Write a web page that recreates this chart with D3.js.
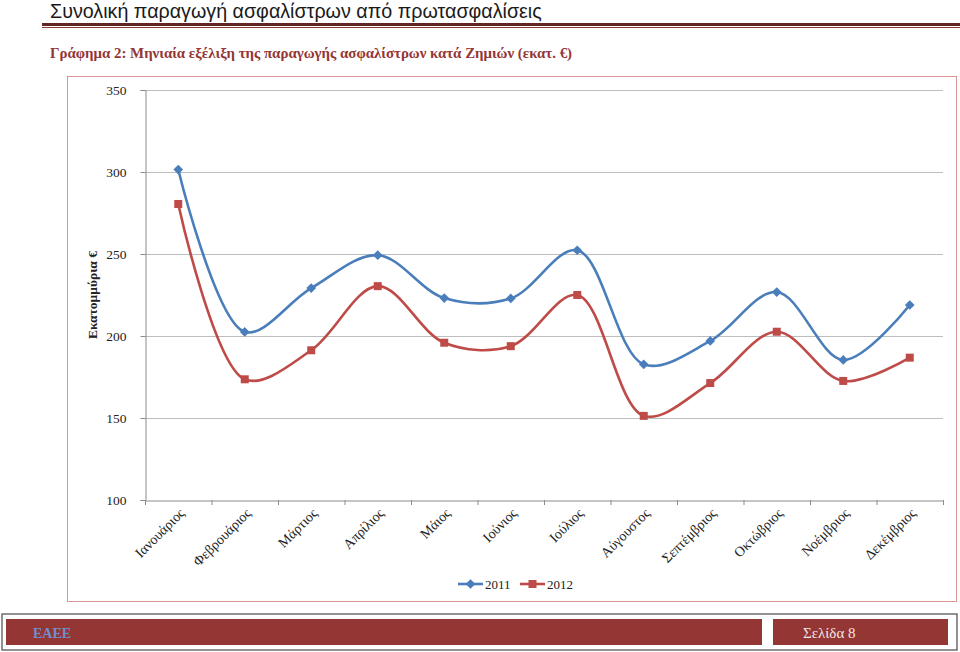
<!DOCTYPE html>
<html><head><meta charset="utf-8">
<script src="https://cdn.jsdelivr.net/npm/d3@7"></script>
<style>body{margin:0;background:#fff}svg{display:block}</style>
</head><body>
<svg id="c" width="960" height="652"></svg>
<script>
const months = ["Ιανουάριος","Φεβρουάριος","Μάρτιος","Απρίλιος","Μάιος","Ιούνιος","Ιούλιος","Αύγουστος","Σεπτέμβριος","Οκτώβριος","Νοέμβριος","Δεκέμβριος"];
const values2011 = [301.5, 202.5, 229.2, 249.3, 223.1, 222.9, 252.3, 182.7, 197.0, 226.8, 185.4, 218.9];
const values2012 = [280.5, 173.6, 191.3, 230.4, 195.9, 193.8, 225.0, 151.3, 171.3, 202.6, 172.6, 186.8];
const yTicks = [100, 150, 200, 250, 300, 350];
const seriesNames = ["2011", "2012"];

const svg = d3.select("#c");
const blue = "#4A7EBB", red = "#BE4B48";

// Header title
svg.append("text").attr("x", 50).attr("y", 18).attr("font-family", "Liberation Sans, Arial, sans-serif")
  .attr("font-size", 19.7).attr("fill", "#1a1a1a").text("Συνολική παραγωγή ασφαλίστρων από πρωτασφαλίσεις");
svg.append("rect").attr("x", 42).attr("y", 23).attr("width", 918).attr("height", 3).attr("fill", "#632523");
svg.append("rect").attr("x", 42).attr("y", 27).attr("width", 918).attr("height", 1).attr("fill", "#8a3a38");

// Subtitle
svg.append("text").attr("x", 50).attr("y", 58).attr("font-family", "Liberation Serif, Times New Roman, serif")
  .attr("font-size", 14.9).attr("font-weight", "bold").attr("fill", "#943634")
  .text("Γράφημα 2: Μηνιαία εξέλιξη της παραγωγής ασφαλίστρων κατά Ζημιών (εκατ. €)");

// Chart frame
svg.append("rect").attr("x", 67.5).attr("y", 76.5).attr("width", 889).attr("height", 525)
  .attr("fill", "#fff").attr("stroke", "#d99694").attr("stroke-width", 1);

const m = {l: 145, r: 943, t: 90, b: 500};
const x = d3.scaleBand().domain(months).range([m.l, m.r]);
const y = d3.scaleLinear().domain([100, 350]).range([m.b, m.t]);

// gridlines
svg.append("g").selectAll("line").data(yTicks.filter(d => d > 100)).join("line")
  .attr("x1", m.l).attr("x2", m.r).attr("y1", d => y(d) + 0.5).attr("y2", d => y(d) + 0.5)
  .attr("stroke", "#bdbdbd").attr("stroke-width", 1);

// y axis
const yAxis = svg.append("g").attr("transform", `translate(${m.l + 0.5},0)`)
  .call(d3.axisLeft(y).tickValues(yTicks).tickSize(5).tickPadding(14));
yAxis.select(".domain").attr("stroke", "#8c8c8c");
yAxis.selectAll(".tick line").attr("stroke", "#8c8c8c");
yAxis.selectAll("text").attr("font-family", "Liberation Serif, Times New Roman, serif").attr("font-size", 13.5).attr("fill", "#222");

// x axis
const xAxis = svg.append("g").attr("transform", `translate(0,${m.b + 0.5})`)
  .call(d3.axisBottom(x).tickSize(0).tickFormat(""));
xAxis.select(".domain").attr("stroke", "#8c8c8c");
const bounds = months.map(d => x(d)).concat([m.r]);
svg.append("g").selectAll("line").data(bounds).join("line")
  .attr("x1", d => d + 0.5).attr("x2", d => d + 0.5).attr("y1", m.b).attr("y2", m.b + 5).attr("stroke", "#8c8c8c");
svg.append("g").selectAll("text").data(months).join("text")
  .attr("transform", d => `translate(${x(d) + x.bandwidth() / 2 + 7},${m.b + 14}) rotate(-45)`)
  .attr("text-anchor", "end").attr("font-family", "Liberation Serif, Times New Roman, serif")
  .attr("font-size", 14).attr("fill", "#222").text(d => d);

// y title
svg.append("text").attr("transform", `translate(97,${(m.t + m.b) / 2}) rotate(-90)`)
  .attr("text-anchor", "middle").attr("font-family", "Liberation Serif, Times New Roman, serif")
  .attr("font-size", 13.5).attr("font-weight", "bold").attr("fill", "#222").text("Εκατομμύρια €");

const cx = d => x(d) + x.bandwidth() / 2;
const line = d3.line().x((d, i) => cx(months[i])).y(d => y(d)).curve(d3.curveCatmullRom.alpha(0.5));

svg.append("path").datum(values2011).attr("d", line).attr("fill", "none").attr("stroke", blue).attr("stroke-width", 2.6);
svg.append("path").datum(values2012).attr("d", line).attr("fill", "none").attr("stroke", red).attr("stroke-width", 2.6);

const diamond = d3.symbol().type(d3.symbolDiamond2).size(60);
svg.append("g").selectAll("path").data(values2011).join("path")
  .attr("transform", (d, i) => `translate(${cx(months[i])},${y(d)})`).attr("d", diamond).attr("fill", blue);
svg.append("g").selectAll("rect").data(values2012).join("rect")
  .attr("x", (d, i) => cx(months[i]) - 4).attr("y", d => y(d) - 4).attr("width", 8).attr("height", 8).attr("fill", red);

// legend
const lg = svg.append("g").attr("transform", "translate(458,584)");
lg.append("line").attr("x1", 0).attr("x2", 25).attr("stroke", blue).attr("stroke-width", 2.6);
lg.append("path").attr("transform", "translate(12.5,0)").attr("d", diamond).attr("fill", blue);
lg.append("text").attr("x", 27).attr("y", 4.5).attr("font-family", "Liberation Serif, Times New Roman, serif").attr("font-size", 13).attr("fill", "#222").text(seriesNames[0]);
lg.append("line").attr("x1", 62).attr("x2", 87).attr("stroke", red).attr("stroke-width", 2.6);
lg.append("rect").attr("x", 70.5).attr("y", -4).attr("width", 8).attr("height", 8).attr("fill", red);
lg.append("text").attr("x", 89).attr("y", 4.5).attr("font-family", "Liberation Serif, Times New Roman, serif").attr("font-size", 13).attr("fill", "#222").text(seriesNames[1]);

// footer
svg.append("rect").attr("x", 2).attr("y", 614).attr("width", 955).attr("height", 36)
  .attr("fill", "#fff").attr("stroke", "#6d6d6d").attr("stroke-width", 1.5);
svg.append("rect").attr("x", 6).attr("y", 619).attr("width", 756).attr("height", 26).attr("fill", "#943634");
svg.append("rect").attr("x", 773).attr("y", 619).attr("width", 175).attr("height", 26).attr("fill", "#943634");
svg.append("text").attr("x", 33).attr("y", 638).attr("font-family", "Liberation Serif, Times New Roman, serif")
  .attr("font-size", 14).attr("font-weight", "bold").attr("fill", "#6f8fcf").text("ΕΑΕΕ");
svg.append("text").attr("x", 803).attr("y", 638).attr("font-family", "Liberation Serif, Times New Roman, serif")
  .attr("font-size", 15).attr("fill", "#f2e6e6").text("Σελίδα 8");
</script>
</body></html>
